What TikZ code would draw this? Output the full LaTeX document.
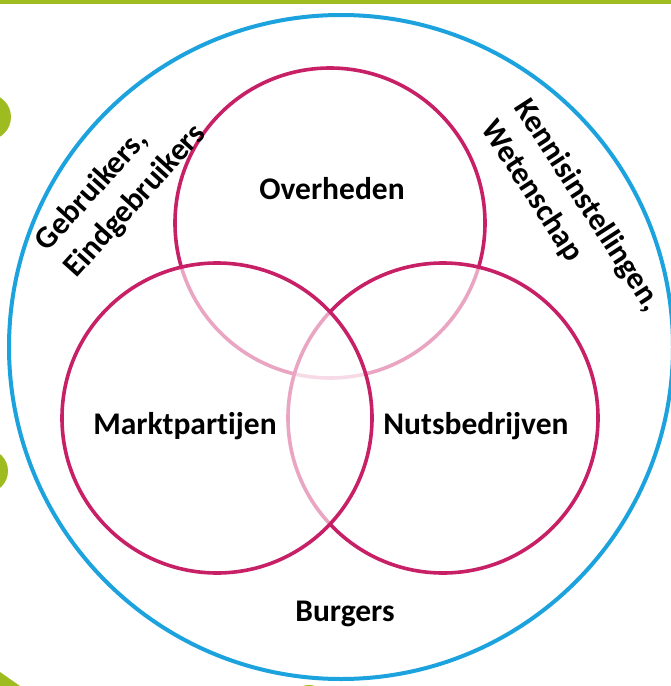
\documentclass[tikz,border=0pt]{standalone}
\usepackage{fontspec}
\setmainfont{Carlito}[Ligatures={NoCommon,NoContextual}]
\definecolor{vblue}{RGB}{28,163,222}
\definecolor{vpink}{RGB}{200,32,102}
\definecolor{vgreen}{RGB}{158,188,32}
\tikzset{
  venn/.style={circle, draw=vpink, line width=3.6pt, fill=white, fill opacity=0.6, draw opacity=1, inner sep=0pt, minimum size=310pt},
  outer/.style={circle, draw=vblue, line width=4pt, fill=white, inner sep=0pt, minimum size=664pt},
  lbl/.style={font=\fontsize{31.5}{39}\selectfont\bfseries, text=black, inner sep=0pt, align=left},
  deco/.style={fill=vgreen, draw=none}
}
\begin{document}
\begin{tikzpicture}[x=1pt,y=-1pt]
\useasboundingbox (0,0) rectangle (671,686);
\fill[white] (0,0) rectangle (671,686);
% green decorations
\fill[deco] (0,0) rectangle (671,4);
\fill[deco] (-12,117) circle (23);
\fill[deco] (-14,471) circle (22);
\fill[deco] (0,672) -- (20,686) -- (0,686) -- cycle;
\fill[deco] (309,703) circle (18);
% outer circle
\node[outer] (out) at (341,347) {};
% venn circles
\node[venn] (ov) at (330,223) {};
\node[venn] (nb) at (443,418) {};
\node[venn] (mp) at (217,418) {};
% labels
\node[lbl] (tov) at (332,189) {Overheden};
\node[lbl] (tmp) at (185,426) {Marktpartijen};
\node[lbl] (tnb) at (476,426) {Nutsbedrijven};
\node[lbl] (tbu) at (345,614) {Burgers};
\node[lbl, rotate=48] (tgb) at (121,188) {Gebruikers,\\Eindgebruikers};
\node[lbl, rotate=-57] (tkw) at (571,216) {Kennisinstellingen,\\Wetenschap};
\end{tikzpicture}
\end{document}
